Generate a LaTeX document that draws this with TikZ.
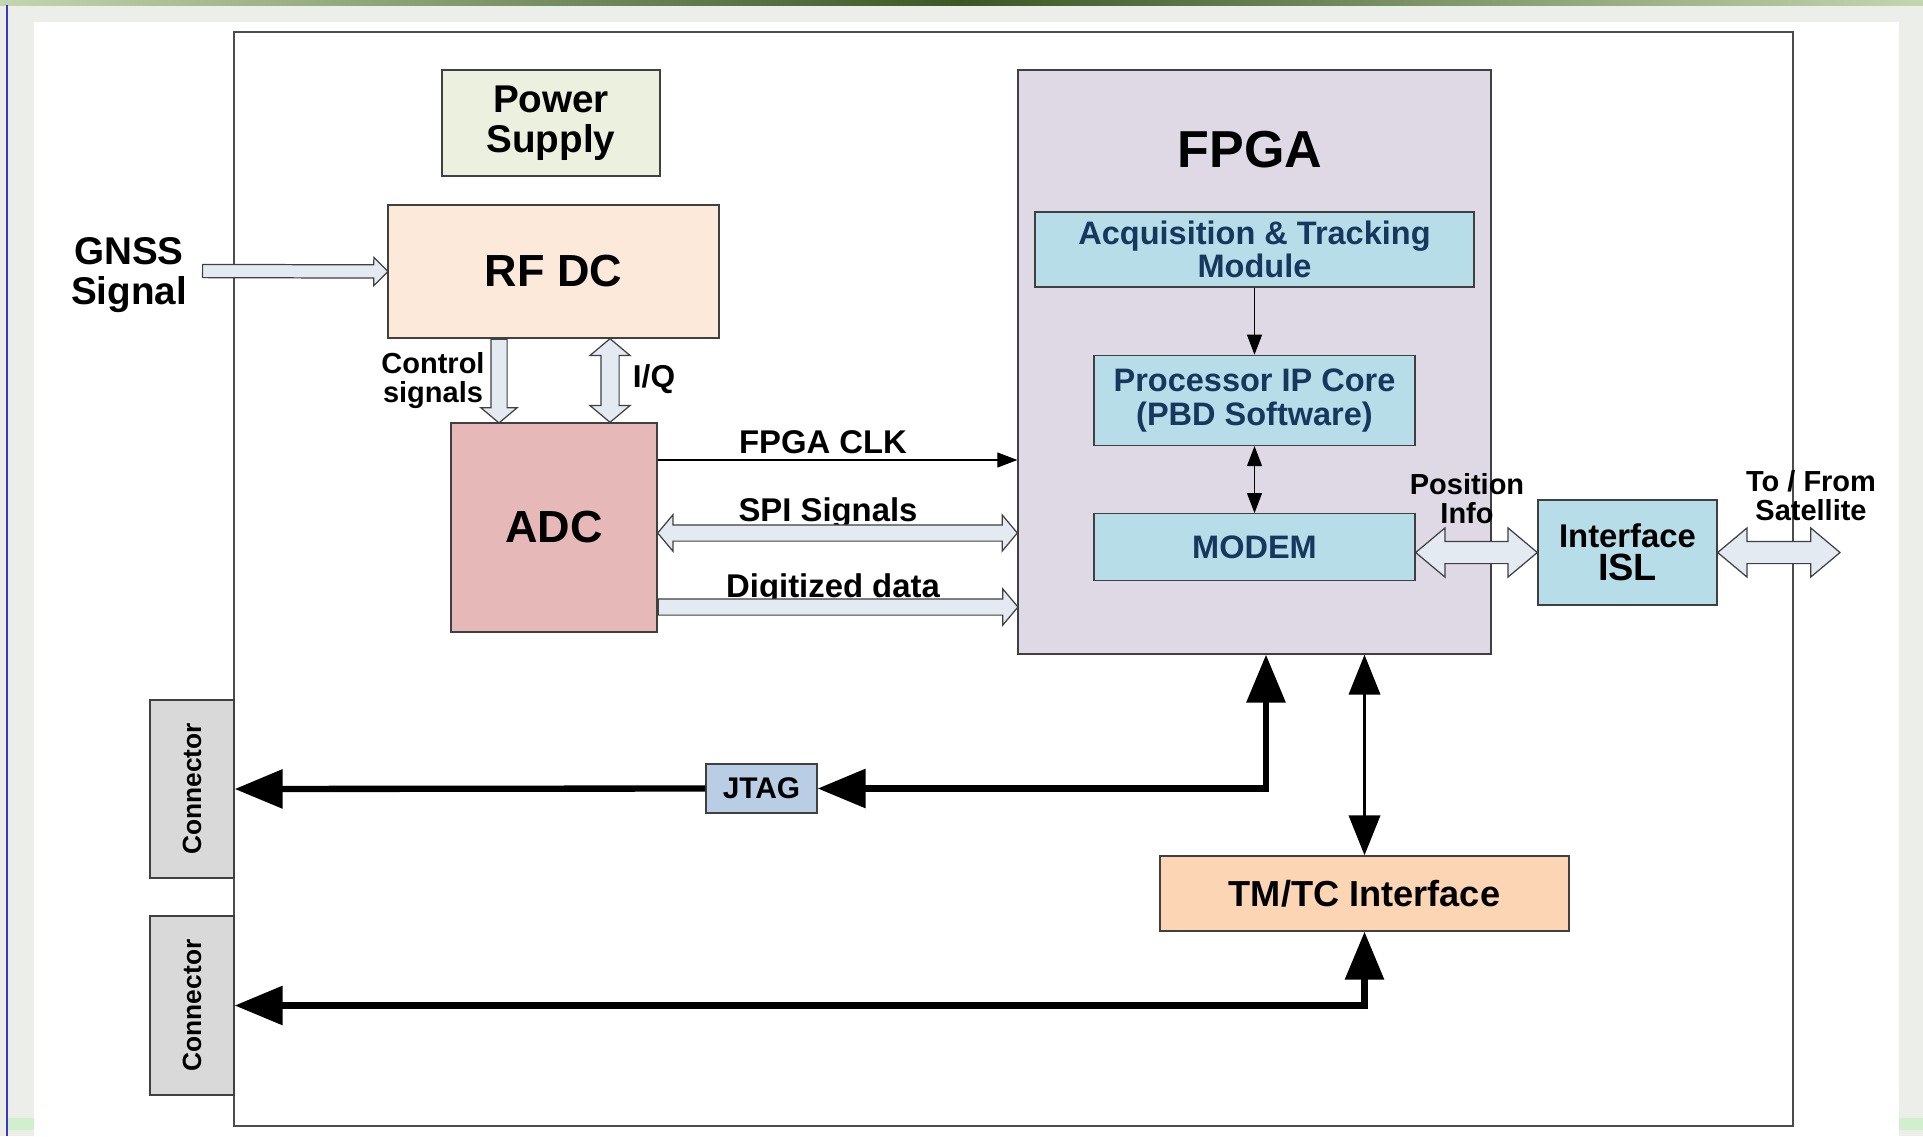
\documentclass[tikz,border=0pt]{standalone}
\usepackage{fontspec}
\setmainfont{Liberation Sans}
\usetikzlibrary{arrows.meta, positioning, calc, shapes.arrows}

\definecolor{slidebg}{RGB}{236,238,233}
\definecolor{barlight}{RGB}{196,214,176}
\definecolor{bardark}{RGB}{58,88,36}
\definecolor{powerfill}{RGB}{235,241,222}
\definecolor{rffill}{RGB}{253,233,217}
\definecolor{adcfill}{RGB}{230,185,184}
\definecolor{fpgafill}{RGB}{223,216,229}
\definecolor{modfill}{RGB}{183,222,232}
\definecolor{modtext}{RGB}{23,55,94}
\definecolor{tmtcfill}{RGB}{252,213,181}
\definecolor{jtagfill}{RGB}{185,205,229}
\definecolor{connfill}{RGB}{217,217,217}
\definecolor{arrowfill}{RGB}{228,234,242}

% hollow block arrows between two points
\newcommand{\sblockarrow}[3][]{%
  \path let \p1=#2, \p2=#3,
    \n1={veclen(\x2-\x1,\y2-\y1)}, \n2={atan2(\y2-\y1,\x2-\x1)} in
    node[sblock, #1, minimum height=\n1, rotate=\n2, anchor=tail] at (\p1) {};}
\newcommand{\dblockarrow}[3][]{%
  \path let \p1=#2, \p2=#3,
    \n1={veclen(\x2-\x1,\y2-\y1)}, \n2={atan2(\y2-\y1,\x2-\x1)} in
    node[dblock, #1, minimum height=\n1, rotate=\n2] at ($(\p1)!0.5!(\p2)$) {};}

\begin{document}
\begin{tikzpicture}[x=0.02cm, y=-0.02cm,
    box/.style={rectangle, draw=black!75, line width=0.8pt, align=center, inner sep=0pt, font=\bfseries},
    modbox/.style={box, fill=modfill, text=modtext, minimum width=6.42cm, font=\bfseries\fontsize{18.5}{19}\selectfont},
    lbl/.style={align=center, inner sep=0pt, font=\bfseries\fontsize{18.7}{19}\selectfont},
    small/.style={lbl, font=\bfseries\fontsize{16.5}{16.5}\selectfont},
    conntext/.style={rotate=90, inner sep=0pt, font=\bfseries\fontsize{15}{15}\selectfont},
    thinarr/.style={line width=0.6pt, >={Triangle[length=0.4cm, width=0.3cm]}},
    medarr/.style={line width=2.2pt, >={Triangle[length=0.8cm, width=0.62cm]}},
    thickarr/.style={line width=3.6pt, >={Triangle[length=0.96cm, width=0.76cm]}},
    sblock/.style={single arrow, draw=black!75, fill=arrowfill, line width=0.7pt, inner sep=0.15cm,
        single arrow head extend=0.2cm, single arrow tip angle=100, minimum width=0pt},
    dblock/.style={double arrow, draw=black!75, fill=arrowfill, line width=0.7pt, inner sep=0.15cm,
        double arrow head extend=0.2cm, double arrow tip angle=100, minimum width=0pt}
]
\useasboundingbox (0,0) rectangle (1923,1136);

% slide background
\fill[slidebg] (0,0) rectangle (1923,1136);
\shade[left color=barlight, right color=barlight, middle color=bardark] (0,0) rectangle (1923,5);
\draw[blue!55!gray, line width=1pt] (7,5) -- (7,1136);
\fill[green!12!slidebg] (8,1118) rectangle (34,1130);
\fill[green!12!slidebg] (1899,1118) rectangle (1923,1130);
\fill[white] (34,22) rectangle (1899,1136);

% board outline
\draw[black!70, line width=1.3pt] (234,32) rectangle (1793,1126);

% helper coordinates
\coordinate (gnsstail) at (202,271);
\coordinate (ctrlx) at (499,0);
\coordinate (iqx) at (610,0);
\coordinate (clky) at (0,460);
\coordinate (spiy) at (0,533);
\coordinate (digy) at (0,607);
\coordinate (jtagx) at (1266,0);
\coordinate (sat) at (1840,0);

% blocks
\node[box, fill=powerfill, minimum width=4.36cm, minimum height=2.12cm, font=\bfseries\fontsize{22}{23}\selectfont] (power) at (551,123) {Power\\Supply};
\node[box, fill=rffill, minimum width=6.62cm, minimum height=2.66cm, font=\bfseries\fontsize{25.6}{26}\selectfont] (rfdc) at (553.5,271.5) {RF DC};
\node[box, fill=adcfill, minimum width=4.12cm, minimum height=4.18cm, font=\bfseries\fontsize{25.6}{26}\selectfont] (adc) at (554,527.5) {ADC};
\node[box, fill=fpgafill, minimum width=9.46cm, minimum height=11.68cm] (fpga) at (1254.5,362) {};
\node[lbl, font=\bfseries\fontsize{29.6}{30}\selectfont] (fpgatitle) at (1250,150) {FPGA};
\node[modbox, minimum width=8.78cm, minimum height=1.5cm] (acq) at (1254.5,249.5) {Acquisition \& Tracking\\Module};
\node[modbox, minimum height=1.8cm, below=1.34cm of acq] (proc) {Processor IP Core\\(PBD Software)};
\node[modbox, minimum height=1.34cm, below=1.34cm of proc] (modem) {MODEM};
\node[box, fill=modfill, minimum width=3.58cm, minimum height=2.1cm, font=\bfseries\fontsize{18.7}{19}\selectfont] (isl) at (1627.5,552.5) {Interface\\{\fontsize{21.6}{22}\selectfont ISL}};
\node[box, fill=tmtcfill, minimum width=8.18cm, minimum height=1.5cm, font=\bfseries\fontsize{20.6}{21}\selectfont] (tmtc) at (1364.5,893.5) {TM/TC Interface};
\node[box, fill=jtagfill, minimum width=2.22cm, minimum height=0.98cm, font=\bfseries\fontsize{17}{17}\selectfont] (jtag) at (761.5,788.5) {JTAG};
\node[box, fill=connfill, minimum width=1.68cm, minimum height=3.56cm, label={[conntext]center:Connector}] (conn1) at (192,789) {};
\node[box, fill=connfill, minimum width=1.68cm, minimum height=3.58cm, label={[conntext]center:Connector}] (conn2) at (192,1005.5) {};

% labels
\node[lbl, font=\bfseries\fontsize{22}{23}\selectfont] (gnss) at (129,275) {GNSS\\Signal};
\node[small] (ctrllbl) at (433,381) {Control\\signals};
\node[lbl, font=\bfseries\fontsize{18}{18}\selectfont] (iqlbl) at (654,379) {I/Q};
\node[lbl] (clklbl) at (823,442) {FPGA CLK};
\node[lbl] (spilbl) at (828,513) {SPI Signals};
\node[lbl] (diglbl) at (833,589) {Digitized data};
\node[small] (poslbl) at (1467,499) {Position\\Info};
\node[small] (satlbl) at (1811,496) {To / From\\Satellite};

% hollow arrows
\sblockarrow[inner sep=0.12cm, single arrow head extend=0.15cm, single arrow tip angle=90]{(gnsstail)}{(rfdc.west)}
\sblockarrow{(rfdc.south -| ctrlx)}{(adc.north -| ctrlx)}
\dblockarrow[inner sep=0.17cm, double arrow head extend=0.22cm]{(rfdc.south -| iqx)}{(adc.north -| iqx)}
\dblockarrow{(adc.east |- spiy)}{(fpga.west |- spiy)}
\sblockarrow{(adc.east |- digy)}{(fpga.west |- digy)}
\dblockarrow[inner sep=0.21cm, double arrow head extend=0.27cm, double arrow tip angle=80]{(modem.east |- isl.west)}{(isl.west)}
\dblockarrow[inner sep=0.21cm, double arrow head extend=0.27cm, double arrow tip angle=80]{(isl.east)}{(isl.east -| sat)}

% solid arrows
\draw[thinarr, ->] (adc.east |- clky) -- (fpga.west |- clky);
\draw[thinarr, ->] (acq) -- (proc);
\draw[thinarr, <->] (proc) -- (modem);
\draw[thickarr, <->] (fpga.south -| jtagx) |- (jtag.east);
\draw[thickarr, ->] (jtag.west) -- (conn1.east);
\draw[medarr, <->] (fpga.south -| tmtc.north) -- (tmtc.north);
\draw[thickarr, <->] (tmtc.south) |- (conn2.east);

\end{tikzpicture}
\end{document}
